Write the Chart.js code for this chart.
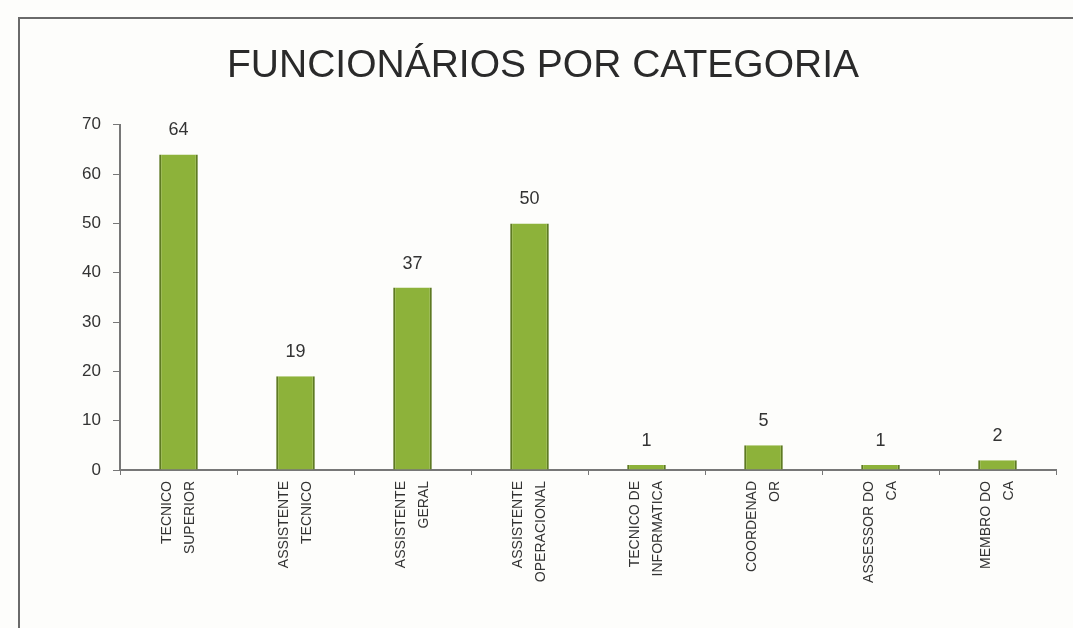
<!DOCTYPE html>
<html>
<head>
<meta charset="utf-8">
<script src="https://cdn.jsdelivr.net/npm/chart.js@4"></script>
<style>
  html, body { margin: 0; padding: 0; background: #fdfdfb; }
  #wrap { position: relative; width: 1073px; height: 628px; overflow: hidden; }
  #frame { position: absolute; left: 18px; top: 17px; width: 1100px; height: 700px; border: 2px solid #6a6a6a; box-sizing: border-box; }
  canvas { position: absolute; left: 0; top: 0; }
</style>
</head>
<body>
<div id="wrap">
  <div id="frame"></div>
  <canvas id="chart" width="1073" height="628"></canvas>
</div>
<script>
  const categories = [
    ['TECNICO', 'SUPERIOR'],
    ['ASSISTENTE', 'TECNICO'],
    ['ASSISTENTE', 'GERAL'],
    ['ASSISTENTE', 'OPERACIONAL'],
    ['TECNICO DE', 'INFORMATICA'],
    ['COORDENAD', 'OR'],
    ['ASSESSOR DO', 'CA'],
    ['MEMBRO DO', 'CA']
  ];
  const funcionarios = [64, 19, 37, 50, 1, 5, 1, 2];
  const yTicks = [0, 10, 20, 30, 40, 50, 60, 70];

  // value labels above each bar
  const valueLabels = {
    id: 'valueLabels',
    afterDatasetsDraw(chart) {
      const ctx = chart.ctx;
      const meta = chart.getDatasetMeta(0);
      ctx.save();
      ctx.font = '18px "Liberation Sans", sans-serif';
      ctx.fillStyle = '#333';
      ctx.textAlign = 'center';
      ctx.textBaseline = 'bottom';
      meta.data.forEach((bar, i) => {
        ctx.fillText(funcionarios[i], bar.x, bar.y - 15);
      });
      ctx.restore();
    }
  };

  new Chart(document.getElementById('chart'), {
    type: 'bar',
    data: {
      labels: categories,
      datasets: [{
        data: funcionarios,
        backgroundColor: '#8db23a',
        borderColor: '#5e7a22',
        borderWidth: { left: 2, right: 2, top: 0, bottom: 0 },
        categoryPercentage: 1,
        barPercentage: 0.33
      }]
    },
    options: {
      responsive: false,
      animation: false,
      layout: { padding: { left: 30, right: 17, top: 0, bottom: 0 } },
      plugins: {
        legend: { display: false },
        tooltip: { enabled: false },
        title: {
          display: true,
          text: 'FUNCIONÁRIOS POR CATEGORIA',
          color: '#2a2a2a',
          font: { family: '"Liberation Sans", sans-serif', size: 39, weight: 'normal' },
          padding: { top: 43, bottom: 35 }
        }
      },
      scales: {
        x: {
          grid: { drawOnChartArea: false, color: '#777', tickLength: 5 },
          border: { color: '#777', width: 2 },
          ticks: {
            color: '#333',
            font: { family: '"Liberation Sans", sans-serif', size: 14, lineHeight: 1.65 },
            maxRotation: 90,
            minRotation: 90,
            labelOffset: -11,
            padding: 6
          },
          afterFit(scale) { scale.height = 158; }
        },
        y: {
          min: 0,
          max: 70,
          afterBuildTicks(scale) { scale.ticks = yTicks.map(v => ({ value: v })); },
          grid: { drawOnChartArea: false, color: '#777', tickLength: 7 },
          border: { color: '#777', width: 2 },
          ticks: {
            color: '#333',
            font: { family: '"Liberation Sans", sans-serif', size: 17 },
            padding: 12
          },
          afterFit(scale) { scale.width = 90; }
        }
      }
    },
    plugins: [valueLabels]
  });
</script>
</body>
</html>
